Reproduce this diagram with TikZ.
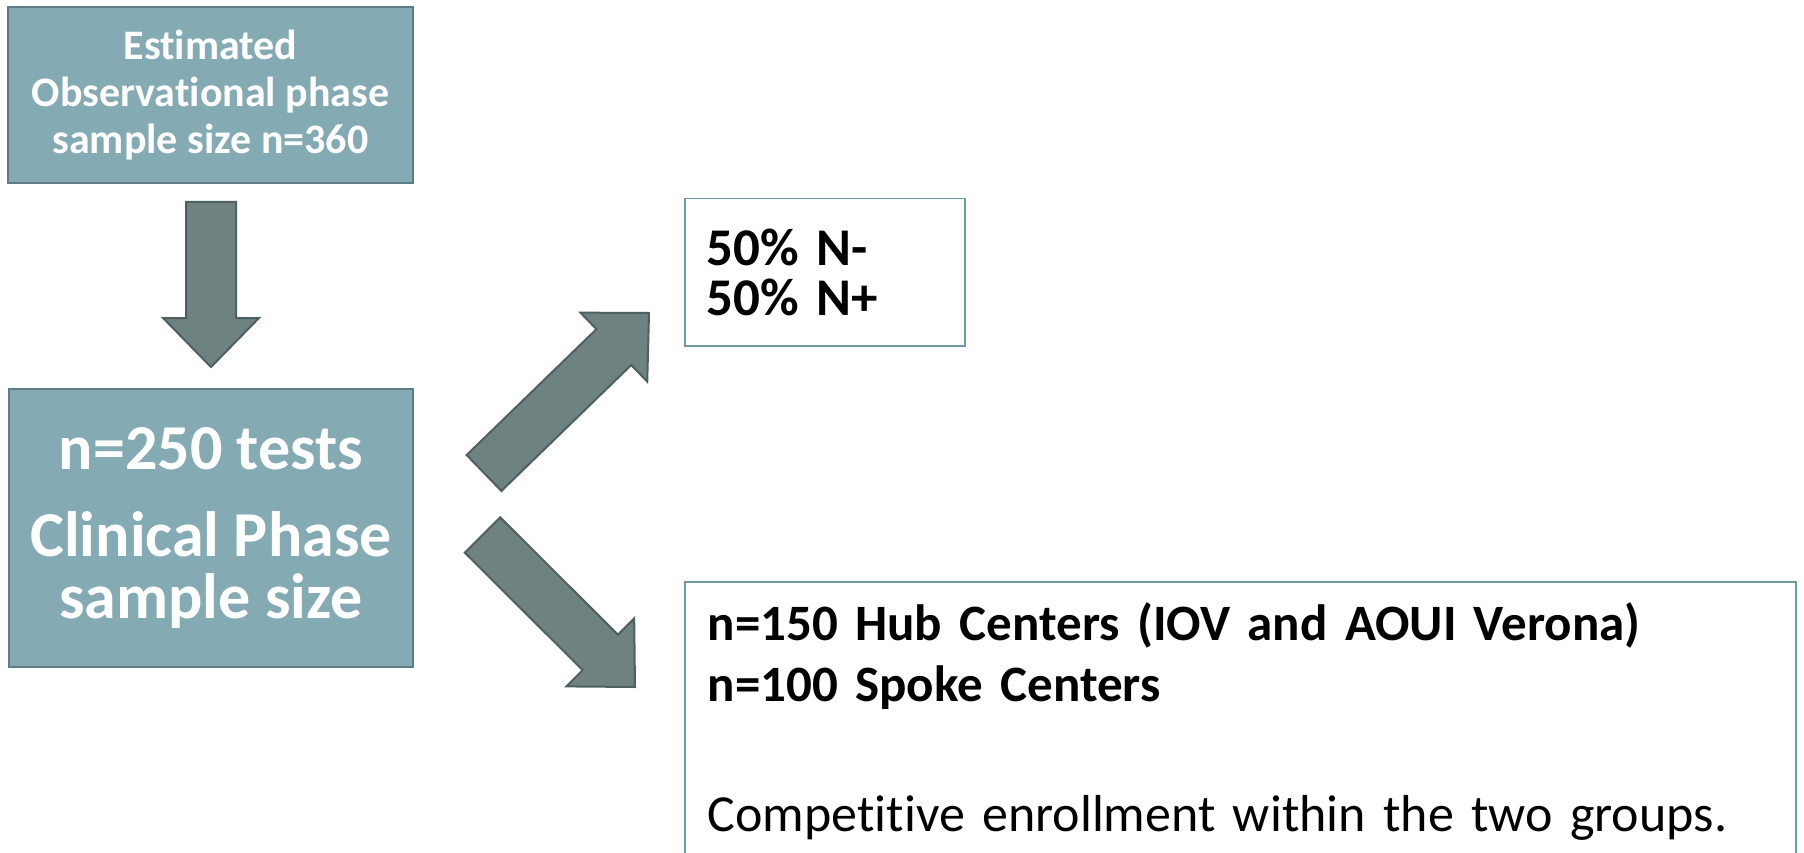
\documentclass[tikz,border=0pt]{standalone}
\usepackage{fontspec}
\setmainfont{Carlito}[Ligatures=CommonOff]
\usetikzlibrary{calc}

\definecolor{boxfill}{HTML}{84AAB4}
\definecolor{boxline}{HTML}{5E7C85}
\definecolor{arrowfill}{HTML}{6E8282}
\definecolor{arrowline}{HTML}{4E6060}
\definecolor{frameline}{HTML}{6F9BA7}

% block arrow from #1 to #2 (tip at #2)
\newcommand{\fatarrow}[2]{%
  \coordinate (#1-head) at ($(#2)!49pt!(#1)$);
  \draw[fatarrow] ($(#1)!25pt!90:(#2)$) -- ($(#1-head)!25pt!90:(#2)$)
    -- ($(#1-head)!48pt!90:(#2)$) -- (#2) -- ($(#1-head)!48pt!-90:(#2)$)
    -- ($(#1-head)!25pt!-90:(#2)$) -- ($(#1)!25pt!-90:(#2)$) -- cycle;
}
% font size with tight baselines
\newcommand{\pfont}[2]{\fontsize{#1}{#2}\selectfont\lineskiplimit=-100pt\relax}

\begin{document}
\begin{tikzpicture}[x=1pt, y=-1pt,
    box/.style={draw=boxline, fill=boxfill, line width=2pt, text=white, align=center, inner sep=0pt},
    frame/.style={draw=frameline, line width=1.5pt, align=left, anchor=north west},
    fatarrow/.style={draw=arrowline, fill=arrowfill, line width=2pt, line join=miter}]
    \useasboundingbox (0,0) rectangle (1804,853);
    \clip (0,0) rectangle (1804,853);

    \node[box, minimum width=405pt, minimum height=176pt,
          font=\pfont{42}{47}\bfseries] (est) at (210.5,95)
          {Estimated\\Observational phase\\sample size n=360};
    \node[box, minimum width=404pt, minimum height=278pt,
          font=\pfont{64}{62}\bfseries] (clin) at (211,528)
          {n=250 tests\\[25pt]Clinical Phase\\sample size};

    \node[frame, minimum width=280pt, minimum height=147pt, inner xsep=22pt,
          text width=236pt, font=\pfont{53}{50}\bfseries] (split) at (684,198)
          {50\% N-\\50\% N+};
    \node[frame, inner xsep=23pt, inner ysep=21pt, text width=1065pt,
          font=\pfont{52}{61}] (centers) at (684,581)
          {\textbf{\fontsize{51}{61}\selectfont n=150 Hub Centers (IOV and AOUI Verona)}\\
           \textbf{\fontsize{51}{61}\selectfont n=100 Spoke Centers}\\[69pt]
           Competitive enrollment within the two groups.};

    \coordinate (down) at (211,202);
    \coordinate (downtip) at (211,367);
    \coordinate (up) at (484,473);
    \coordinate (uptip) at (649,313);
    \coordinate (low) at (482.5,535);
    \coordinate (lowtip) at (635,687);

    \fatarrow{down}{downtip}
    \fatarrow{up}{uptip}
    \fatarrow{low}{lowtip}
\end{tikzpicture}
\end{document}
